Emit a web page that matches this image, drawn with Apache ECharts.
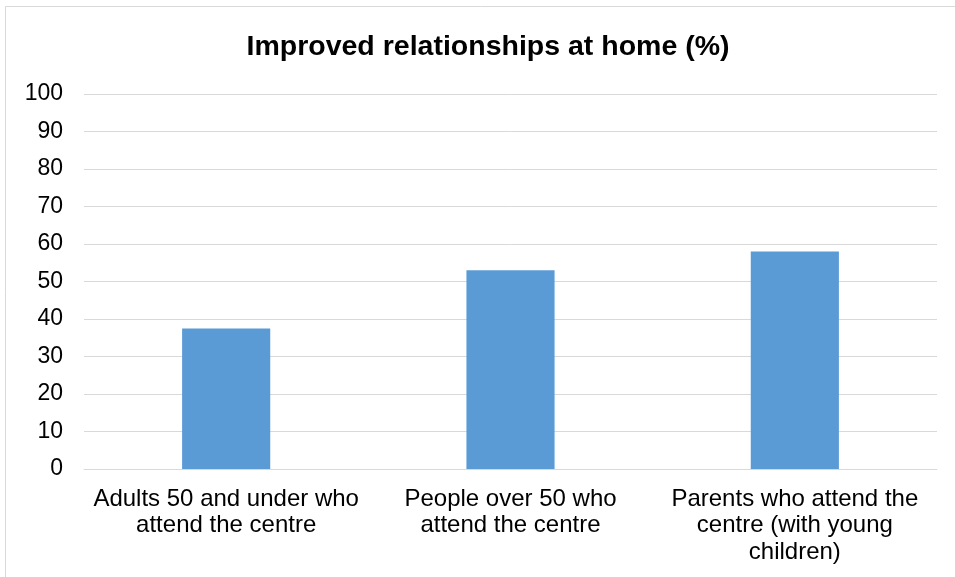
<!DOCTYPE html>
<html>
<head>
<meta charset="utf-8">
<script src="https://cdn.jsdelivr.net/npm/echarts@6/dist/echarts.min.js"></script>
<style>
  html, body { margin: 0; padding: 0; background: #ffffff; }
  #chart { width: 955px; height: 577px; }
</style>
</head>
<body>
<div id="chart"></div>
<script>
// Share of respondents reporting improved relationships at home
const chartTitle = 'Improved relationships at home (%)';
const categories = [
  'Adults 50 and under who\nattend the centre',
  'People over 50 who\nattend the centre',
  'Parents who attend the\ncentre (with young\nchildren)'
];
const values = [37.5, 53, 58];
const yTicks = { min: 0, max: 100, interval: 10 };

const chart = echarts.init(document.getElementById('chart'), null, { renderer: 'canvas' });

chart.setOption({
  animation: false,
  backgroundColor: '#ffffff',
  textStyle: { fontFamily: '"Liberation Sans", Arial, sans-serif' },
  graphic: [{
    type: 'rect',
    shape: { x: 5.5, y: 6.5, width: 960, height: 590 },
    style: { fill: 'none', stroke: '#d9d9d9', lineWidth: 1 },
    silent: true,
    z: -10
  }, {
    // chart title, centred over the plot area
    type: 'text',
    x: 488,
    y: 33,
    style: {
      text: chartTitle,
      align: 'center',
      verticalAlign: 'top',
      fontFamily: '"Liberation Sans", Arial, sans-serif',
      fontSize: 28.5,
      fontWeight: 'bold',
      fill: '#000000'
    },
    silent: true
  }],
  grid: { left: 84, right: 18, top: 94, bottom: 108, containLabel: false },
  xAxis: {
    type: 'category',
    data: categories,
    axisTick: { show: false },
    axisLine: { show: true, lineStyle: { color: '#d9d9d9', width: 1 } },
    axisLabel: {
      color: '#000000',
      fontSize: 24,
      lineHeight: 26.5,
      margin: 17,
      interval: 0,
      align: 'center'
    }
  },
  yAxis: {
    type: 'value',
    min: yTicks.min,
    max: yTicks.max,
    interval: yTicks.interval,
    axisLine: { show: false },
    axisTick: { show: false },
    splitLine: { lineStyle: { color: '#d9d9d9', width: 1 } },
    axisLabel: { color: '#000000', fontSize: 23, margin: 21, padding: [5, 0, 0, 0] }
  },
  series: [{
    type: 'bar',
    data: values,
    barWidth: '31%',
    itemStyle: { color: '#5b9bd5' }
  }]
});
</script>
</body>
</html>
